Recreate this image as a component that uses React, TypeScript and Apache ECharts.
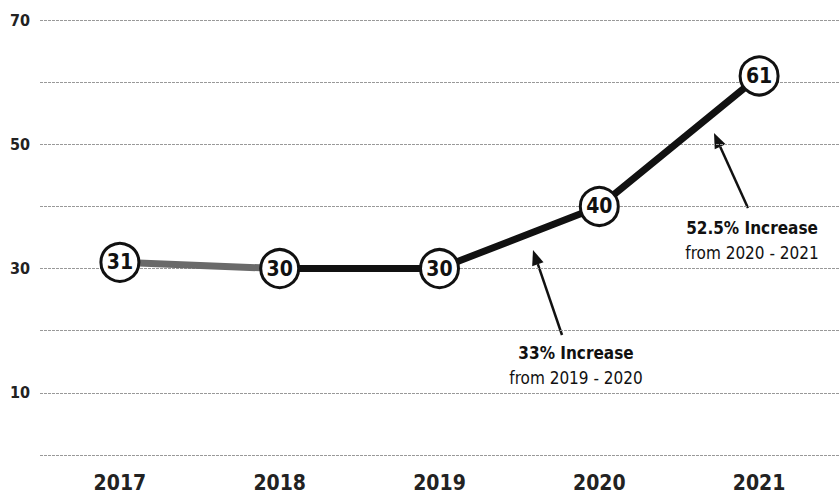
import React, { useEffect, useRef } from "react";
import * as echarts from "echarts";

const years = ["2017", "2018", "2019", "2020", "2021"];
const values = [31, 30, 30, 40, 61];
const yTicksShown = [10, 30, 50, 70];
const note1 = ["33% Increase", "from 2019 - 2020"];
const note2 = ["52.5% Increase", "from 2020 - 2021"];

const FONT = "'DejaVu Sans Condensed', 'Liberation Sans Narrow', 'Roboto', sans-serif";

export default function App() {
  const ref = useRef<HTMLDivElement>(null);
  useEffect(() => {
    if (!ref.current) return;
    const chart = echarts.init(ref.current, null, { renderer: "svg" });
    const greySeg = values.map((v, i) => (i <= 1 ? v : "-"));
    const blackSeg = values.map((v, i) => (i >= 1 ? v : "-"));
    const arrow = (x1: number, y1: number, x2: number, y2: number) => {
      const ang = Math.atan2(y2 - y1, x2 - x1);
      const L = 15, W = 6;
      const bx = x2 - L * Math.cos(ang), by = y2 - L * Math.sin(ang);
      const px = -Math.sin(ang) * W, py = Math.cos(ang) * W;
      return [
        { type: "line", shape: { x1, y1, x2: bx, y2: by }, style: { stroke: "#111", lineWidth: 2.5 } },
        { type: "polygon", shape: { points: [[x2, y2], [bx + px, by + py], [bx - px, by - py]] }, style: { fill: "#111" } },
      ];
    };
    chart.setOption({
      animation: false,
      grid: { left: 40, right: 0, top: 20, bottom: 40 },
      xAxis: {
        type: "category",
        data: years,
        boundaryGap: true,
        axisLine: { show: false },
        axisTick: { show: false },
        axisLabel: { fontFamily: FONT, fontWeight: "bold", fontSize: 21, color: "#222", margin: 17 },
      },
      yAxis: {
        type: "value",
        min: 0,
        max: 70,
        interval: 10,
        axisLine: { show: false },
        axisTick: { show: false },
        axisLabel: {
          fontFamily: FONT,
          fontWeight: "bold",
          fontSize: 16,
          color: "#222",
          margin: 10,
          formatter: (v: number) => (yTicksShown.includes(v) ? String(v) : ""),
        },
        splitLine: { lineStyle: { color: "#999", type: [3, 1], width: 1 } },
      },
      series: [
        { type: "line", data: greySeg, showSymbol: false, lineStyle: { color: "#6a6a6a", width: 7 }, z: 2 },
        { type: "line", data: blackSeg, showSymbol: false, lineStyle: { color: "#111", width: 7 }, z: 3 },
        {
          type: "line",
          data: values,
          lineStyle: { width: 0, opacity: 0 },
          symbol: "circle",
          symbolSize: 38,
          itemStyle: { color: "#fff", borderColor: "#111", borderWidth: 3 },
          label: { show: true, position: "inside", fontFamily: FONT, fontWeight: "bold", fontSize: 21, color: "#111" },
          z: 5,
        },
      ],
      graphic: [
        ...arrow(562, 335, 533, 250),
        ...arrow(748, 208, 714, 133),
        { type: "text", x: 576, y: 353, style: { text: note1[0], font: `bold 17px ${FONT}`, fill: "#111", align: "center", verticalAlign: "middle" } },
        { type: "text", x: 576, y: 378, style: { text: note1[1], font: `17px ${FONT}`, fill: "#111", align: "center", verticalAlign: "middle" } },
        { type: "text", x: 752, y: 228, style: { text: note2[0], font: `bold 17px ${FONT}`, fill: "#111", align: "center", verticalAlign: "middle" } },
        { type: "text", x: 752, y: 253, style: { text: note2[1], font: `17px ${FONT}`, fill: "#111", align: "center", verticalAlign: "middle" } },
      ],
    });
    return () => chart.dispose();
  }, []);
  return <div ref={ref} style={{ width: 839, height: 495, position: "absolute", left: 0, top: 0 }} />;
}
